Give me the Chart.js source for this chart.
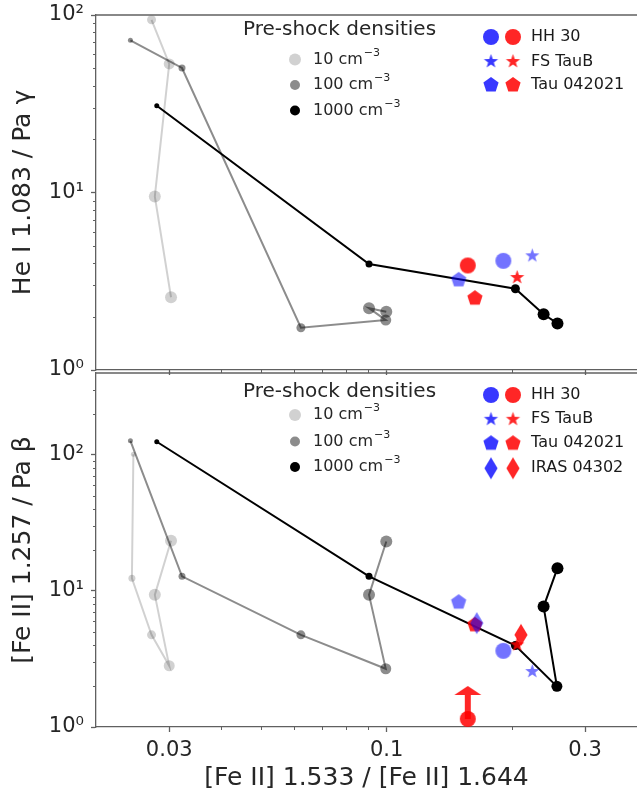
<!DOCTYPE html>
<html>
<head>
<meta charset="utf-8">
<script src="https://cdn.jsdelivr.net/npm/chart.js@4.4.1/dist/chart.umd.min.js"></script>
<style>
  html, body { margin: 0; padding: 0; background: #fff; overflow: hidden; }
  #wrap { position: relative; width: 637px; height: 793px; }
  #top_chart { position: absolute; left: 0; top: 0; }
  #bottom_chart { position: absolute; left: 0; top: 372px; }
</style>
</head>
<body>
<div id="wrap">
  <canvas id="top_chart" width="637" height="380"></canvas>
  <canvas id="bottom_chart" width="637" height="421"></canvas>
</div>
<script>
// shock models: x = [Fe II] 1.533 / [Fe II] 1.644 (same for both panels)
const n10_x   = [0.0246, 0.0244, 0.0272, 0.0300, 0.0277, 0.0303];
const n100_x  = [0.0242, 0.0322, 0.0622, 0.0995, 0.0907, 0.0998];
const n1000_x = [0.0280, 0.0907, 0.2040, 0.2567, 0.2385, 0.2575];

// top panel: He I 1.083 / Pa gamma  (null = not on the plot)
const n10_he   = [null, null, 94, 53, 9.5, 2.57];
const n100_he  = [72, 50.3, 1.73, 1.91, 2.23, 2.13];
const n1000_he = [30.8, 3.95, 2.87, null, 2.06, 1.83];

// bottom panel: [Fe II] 1.257 / Pa beta
const n10_fe   = [101, 12.4, 4.76, 2.82, 9.36, 23.4];
const n100_fe  = [127, 12.8, 4.76, 2.68, 9.36, 23.1];
const n1000_fe = [125, 12.8, 3.97, 1.99, 7.68, 14.7];

// observed jets, blue and red lobes
const obj_names = ['HH 30', 'FS TauB', 'Tau 042021', 'IRAS 04302'];
const blue_x    = [0.1908, 0.224, 0.149, 0.1647];
const red_x     = [0.1567, 0.206, 0.163, 0.2104];
const blue_y_he = [4.12, 4.40, 3.22, null];
const red_y_he  = [3.88, 3.32, 2.54, null];
const blue_y_fe = [3.63, 2.56, 8.27, 5.80];
const red_y_fe  = [1.145, 4.02, 5.64, 4.76];
const red_lower_limit_fe = [true, false, false, false];

const density_labels = ['10', '100', '1000'];
const x_ticks = [0.03, 0.1, 0.3];
const y_ticks = [1, 10, 100];

Chart.defaults.font.family = "'DejaVu Sans', sans-serif";
Chart.defaults.color = '#262626';

const FONT = "'DejaVu Sans', sans-serif";
const AXIS_COLOR = '#606060';
const model_colors = ['rgba(0,0,0,0.18)', 'rgba(0,0,0,0.45)', 'rgba(0,0,0,1)'];
const model_radius = [2.5, 3.5, 4.5, 5.5, 6, 6];
const legend_radius = [6, 5, 5];
const blue_data = 'rgba(0,0,255,0.55)';
const blue_legend = 'rgba(0,0,255,0.78)';
const red_col = 'rgba(255,0,0,0.85)';
const shapes = ['circle', 'star', 'pentagon', 'diamond'];
const shape_size = { circle: 8, star: 7.5, pentagon: 8, diamond: 11 };

//marker pictures for the observed points
function makeMarker(shape, color) {
  const r = shape_size[shape];
  const c = document.createElement('canvas');
  const s = Math.ceil(2 * r + 4);
  c.width = s; c.height = s;
  const g = c.getContext('2d');
  g.fillStyle = color;
  g.translate(s / 2, s / 2);
  g.beginPath();
  if (shape === 'circle') {
    g.arc(0, 0, r, 0, Math.PI * 2);
  } else if (shape === 'star') {
    for (let i = 0; i < 10; i++) {
      const rr = i % 2 ? r * 0.4 : r;
      const a = -Math.PI / 2 + i * Math.PI / 5;
      g.lineTo(rr * Math.cos(a), rr * Math.sin(a));
    }
  } else if (shape === 'pentagon') {
    for (let i = 0; i < 5; i++) {
      const a = -Math.PI / 2 + i * 2 * Math.PI / 5;
      g.lineTo(r * Math.cos(a), r * Math.sin(a));
    }
  } else {
    g.moveTo(0, -r); g.lineTo(r * 0.6, 0); g.lineTo(0, r); g.lineTo(-r * 0.6, 0);
  }
  g.closePath();
  g.fill();
  return c;
}

//upward arrow for a lower limit, centred on the point
function makeArrow(color) {
  const len = 33;
  const c = document.createElement('canvas');
  c.width = 30; c.height = 2 * len + 4;
  const g = c.getContext('2d');
  g.fillStyle = color;
  const cx = 15, cy = c.height / 2;
  g.fillRect(cx - 3, cy - len + 9, 6, len - 9);
  g.beginPath();
  g.moveTo(cx, cy - len);
  g.lineTo(cx + 13.5, cy - len + 9);
  g.lineTo(cx - 13.5, cy - len + 9);
  g.closePath();
  g.fill();
  return c;
}

const blue_imgs = shapes.map(s => makeMarker(s, blue_data));
const red_imgs = shapes.map(s => makeMarker(s, red_col));
const blue_leg_imgs = shapes.map(s => makeMarker(s, blue_legend));
const red_leg_imgs = red_imgs;
const arrow_img = makeArrow(red_col);

function pts(xs, ys) {
  return xs.map((x, i) => ({ x: x, y: ys[i] }));
}

function modelSet(xs, ys, k) {
  return {
    data: pts(xs, ys),
    showLine: true,
    spanGaps: true,
    borderColor: model_colors[k],
    backgroundColor: model_colors[k],
    borderWidth: 2,
    pointRadius: model_radius,
    pointBorderWidth: 0,
    order: 5 - k
  };
}

function obsSet(xs, ys, imgs, order) {
  return {
    data: pts(xs, ys),
    showLine: false,
    pointStyle: imgs,
    pointRadius: 8,
    order: order
  };
}

// superscript helper for legend texts
function supText(g, base, sup, x, y, size) {
  g.font = size + 'px ' + FONT;
  g.textAlign = 'left';
  g.textBaseline = 'middle';
  g.fillText(base, x, y);
  const w = g.measureText(base).width;
  g.font = Math.round(size * 0.68) + 'px ' + FONT;
  g.fillText(sup, x + w + 1, y - size * 0.42);
}

const panelExtras = {
  id: 'panelExtras',
  afterDraw(chart, args, opts) {
    const g = chart.ctx;
    const a = chart.chartArea;
    const xs = chart.scales.x, ys = chart.scales.y;
    g.save();
    // top spine
    g.strokeStyle = AXIS_COLOR;
    g.lineWidth = 1.3;
    g.beginPath();
    g.moveTo(a.left, a.top);
    g.lineTo(a.right, a.top);
    g.stroke();
    // minor ticks
    g.lineWidth = 1;
    for (let d = -2; d <= 2; d++) {
      for (let m = 2; m <= 9; m++) {
        const v = m * Math.pow(10, d);
        if (v > xs.min * 1.001 && v < xs.max * 0.999) {
          const px = Math.round(xs.getPixelForValue(v)) + 0.5;
          g.beginPath(); g.moveTo(px, a.bottom); g.lineTo(px, a.bottom + 3); g.stroke();
        }
        if (v > ys.min * 1.001 && v < ys.max * 0.999) {
          const py = Math.round(ys.getPixelForValue(v)) + 0.5;
          g.beginPath(); g.moveTo(a.left, py); g.lineTo(a.left - 3, py); g.stroke();
        }
      }
    }
    // density legend
    g.fillStyle = '#262626';
    g.font = '20px ' + FONT;
    g.textAlign = 'left';
    g.textBaseline = 'middle';
    g.fillText('Pre-shock densities', 243, opts.titleY);
    density_labels.forEach((lab, i) => {
      const y = opts.rowY[i];
      g.fillStyle = model_colors[i];
      g.beginPath(); g.arc(295, y, legend_radius[i], 0, Math.PI * 2); g.fill();
      g.fillStyle = '#262626';
      supText(g, lab + ' cm', '\u22123', 313, y, 16);
    });
    // object legend
    for (let i = 0; i < opts.objects; i++) {
      const y = opts.objY[i];
      const b = blue_leg_imgs[i], r = red_leg_imgs[i];
      g.drawImage(b, 491 - b.width / 2, y - b.height / 2);
      g.drawImage(r, 513 - r.width / 2, y - r.height / 2);
      g.fillStyle = '#1a1a1a';
      g.font = '16px ' + FONT;
      g.textBaseline = 'middle';
      g.fillText(obj_names[i], 531, y);
    }
    g.restore();
  }
};

function yAxis(title, max) {
  return {
    type: 'logarithmic',
    min: 1,
    max: max,
    afterBuildTicks: s => { s.ticks = y_ticks.map(v => ({ value: v })); },
    afterFit: s => { s.width = 96; s.paddingTop = 0; s.paddingBottom = 0; },
    ticks: {
      font: { size: 21 },
      color: '#262626',
      padding: 7,
      callback: v => '10' + ['\u2070', '\u00b9', '\u00b2'][Math.round(Math.log10(v))]
    },
    grid: { drawOnChartArea: false, tickLength: 5, color: AXIS_COLOR, tickWidth: 1.3 },
    border: { display: true, color: AXIS_COLOR, width: 1.3 },
    title: { display: true, text: title, font: { size: 25 }, color: '#262626', padding: { top: 8, bottom: 0 } }
  };
}

function xAxis(showLabels, height) {
  return {
    type: 'logarithmic',
    min: 0.02,
    max: 0.4,
    afterBuildTicks: s => { s.ticks = x_ticks.map(v => ({ value: v })); },
    afterFit: s => { s.height = height; s.paddingLeft = 0; s.paddingRight = 0; },
    ticks: {
      display: showLabels,
      font: { size: 21 },
      color: '#262626',
      padding: 6,
      maxRotation: 0,
      callback: v => String(v)
    },
    grid: { drawOnChartArea: false, tickLength: 5, color: AXIS_COLOR, tickWidth: 1.3 },
    border: { display: true, color: AXIS_COLOR, width: 1.3 },
    title: {
      display: showLabels,
      text: '[Fe II] 1.533 / [Fe II] 1.644',
      font: { size: 25 },
      color: '#262626',
      padding: { top: 0, bottom: 0 }
    }
  };
}

new Chart(document.getElementById('top_chart'), {
  type: 'scatter',
  data: {
    datasets: [
      obsSet(blue_x, blue_y_he, blue_imgs, 0),
      obsSet(red_x, red_y_he, red_imgs, 1),
      modelSet(n1000_x, n1000_he, 2),
      modelSet(n100_x, n100_he, 1),
      modelSet(n10_x, n10_he, 0)
    ]
  },
  options: {
    responsive: false,
    animation: false,
    events: [],
    layout: { autoPadding: false, padding: { top: 15, left: 0, right: 0, bottom: 0 } },
    scales: { x: xAxis(false, 10), y: yAxis('He I 1.083 / Pa \u03b3', 100) },
    plugins: {
      legend: { display: false },
      tooltip: { enabled: false },
      panelExtras: { titleY: 30, rowY: [59.5, 85, 110.5], objects: 3, objY: [37, 61.5, 85] }
    }
  },
  plugins: [panelExtras]
});

new Chart(document.getElementById('bottom_chart'), {
  type: 'scatter',
  data: {
    datasets: [
      obsSet(blue_x, blue_y_fe, blue_imgs, 0),
      obsSet(red_x, red_y_fe, red_imgs, 1),
      {
        data: pts(red_x, red_y_fe).filter((p, i) => red_lower_limit_fe[i]),
        showLine: false,
        pointStyle: arrow_img,
        pointRadius: 8,
        order: 2
      },
      modelSet(n1000_x, n1000_fe, 2),
      modelSet(n100_x, n100_fe, 1),
      modelSet(n10_x, n10_fe, 0)
    ]
  },
  options: {
    responsive: false,
    animation: false,
    events: [],
    layout: { autoPadding: false, padding: { top: 1, left: 0, right: 0, bottom: 0 } },
    scales: { x: xAxis(true, 66), y: yAxis('[Fe II] 1.257 / Pa \u03b2', 400) },
    plugins: {
      legend: { display: false },
      tooltip: { enabled: false },
      panelExtras: { titleY: 19.5, rowY: [43, 69.5, 95], objects: 4, objY: [23, 47.3, 71.3, 96.3] }
    }
  },
  plugins: [panelExtras]
});
</script>
</body>
</html>
